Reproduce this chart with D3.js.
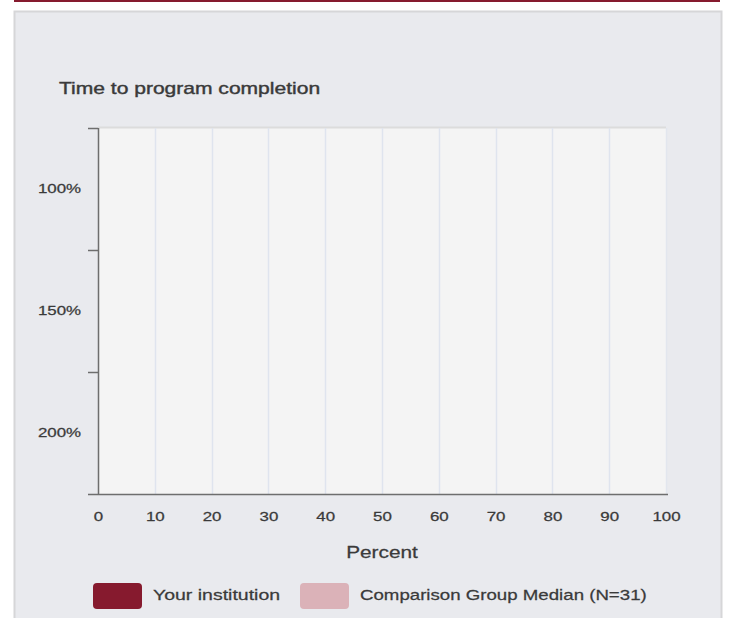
<!DOCTYPE html>
<html>
<head>
<meta charset="utf-8">
<script src="https://cdn.jsdelivr.net/npm/d3@7/dist/d3.min.js"></script>
<style>
html,body{margin:0;padding:0;background:#fff;}
svg{display:block;font-family:"Liberation Sans",Arial,sans-serif;}
</style>
</head>
<body>
<svg id="chart" width="731" height="618"></svg>
<script>
const categories = ["100%", "150%", "200%"];
const institutionValues = [null, null, null];
const comparisonValues = [null, null, null];
const xTicks = [0, 10, 20, 30, 40, 50, 60, 70, 80, 90, 100];
const seriesNames = ["Your institution", "Comparison Group Median (N=31)"];
const seriesColors = ["#861a2e", "#dbb2b8"];
const chartTitle = "Time to program completion";
const xTitle = "Percent";

const SX = 1.3; // horizontal text stretch seen in the reference
const svg = d3.select("#chart");

function stretchedText(x, y, txt, size, anchor) {
  return svg.append("text")
    .attr("transform", `translate(${x},${y}) scale(${SX},1)`)
    .attr("text-anchor", anchor || "start")
    .attr("font-size", size).attr("fill", "#3a3a3a")
    .attr("stroke", "#3a3a3a").attr("stroke-width", 0.25)
    .text(txt);
}

// top rule
svg.append("rect").attr("x", 14).attr("y", 0).attr("width", 706).attr("height", 2).attr("fill", "#861a2e");
// panel
svg.append("rect").attr("x", 14.5).attr("y", 11.5).attr("width", 707).attr("height", 620)
  .attr("fill", "#e9eaee").attr("stroke", "#d6d6d8").attr("stroke-width", 2);

const m = {left: 98, right: 666, top: 128, bottom: 494};
const x = d3.scaleLinear().domain([0, 100]).range([m.left, m.right]);
const y = d3.scaleBand().domain(categories).range([m.top, m.bottom]);

// plot background
svg.append("rect").attr("x", m.left).attr("y", m.top).attr("width", m.right - m.left).attr("height", m.bottom - m.top)
  .attr("fill", "#f4f4f4");
svg.append("line").attr("x1", m.left).attr("x2", m.right).attr("y1", m.top - 0.5).attr("y2", m.top - 0.5)
  .attr("stroke", "#dcdcdc").attr("stroke-width", 2);
svg.append("line").attr("x1", m.right + 0.5).attr("x2", m.right + 0.5).attr("y1", m.top).attr("y2", m.bottom)
  .attr("stroke", "#e2e6ee").attr("stroke-width", 1.5);

// gridlines
svg.append("g").selectAll("line").data(xTicks.filter(d => d > 0 && d < 100)).join("line")
  .attr("x1", d => Math.round(x(d)) + 0.5).attr("x2", d => Math.round(x(d)) + 0.5)
  .attr("y1", m.top).attr("y2", m.bottom)
  .attr("stroke", "#dfe4ee").attr("stroke-width", 1.5);

// bars
const sub = d3.scaleBand().domain([0, 1]).range([0, y.bandwidth()]).padding(0.2);
[institutionValues, comparisonValues].forEach((vals, si) => {
  svg.append("g").selectAll("rect")
    .data(categories.map((c, i) => ({c, v: vals[i]})).filter(d => d.v != null))
    .join("rect")
    .attr("x", x(0)).attr("y", d => y(d.c) + sub(si))
    .attr("width", d => x(d.v) - x(0)).attr("height", sub.bandwidth())
    .attr("fill", seriesColors[si]);
});

// x axis
const xAxis = svg.append("g").attr("transform", `translate(0,${m.bottom})`)
  .call(d3.axisBottom(x).tickValues(xTicks).tickSize(0).tickPadding(18));
xAxis.select(".domain").remove();
xAxis.append("line").attr("x1", 88).attr("x2", m.right + 2).attr("y1", 0.5).attr("y2", 0.5)
  .attr("stroke", "#6e6e6e").attr("stroke-width", 1.5);
xAxis.selectAll(".tick text").attr("font-size", 13).attr("fill", "#3a3a3a")
  .attr("stroke", "#3a3a3a").attr("stroke-width", 0.25)
  .attr("transform", `scale(${SX},1)`);

// y axis
const yAxis = svg.append("g").attr("transform", `translate(${m.left},0)`)
  .call(d3.axisLeft(y).tickSize(0).tickPadding(13));
yAxis.select(".domain").remove();
yAxis.append("line").attr("x1", 0.5).attr("x2", 0.5).attr("y1", m.top).attr("y2", m.bottom)
  .attr("stroke", "#6e6e6e").attr("stroke-width", 1.5);
yAxis.selectAll(".tick text").attr("font-size", 13).attr("fill", "#3a3a3a")
  .attr("stroke", "#3a3a3a").attr("stroke-width", 0.25)
  .attr("transform", `scale(${SX},1)`);
const bounds = [m.top].concat(categories.map(c => y(c) + y.bandwidth()));
yAxis.selectAll("line.sep").data(bounds.slice(0, -1)).join("line").attr("class", "sep")
  .attr("x1", -10).attr("x2", 0).attr("y1", d => d + 0.5).attr("y2", d => d + 0.5)
  .attr("stroke", "#6e6e6e").attr("stroke-width", 1.5);

// titles
stretchedText(59, 94, chartTitle, 16.2).attr("stroke-width", 0.4);
stretchedText((m.left + m.right) / 2, 558, xTitle, 16, "middle");

// legend
const legendX = [93, 300];
const textX = [153, 360];
seriesNames.forEach((n, i) => {
  svg.append("rect").attr("x", legendX[i]).attr("y", 583).attr("width", 49).attr("height", 26).attr("rx", 4)
    .attr("fill", seriesColors[i]);
  const t = stretchedText(textX[i], 600, n, 15);
  if (i === 1) t.attr("transform", `translate(${textX[i]},600) scale(1.245,1)`);
});
</script>
</body>
</html>
